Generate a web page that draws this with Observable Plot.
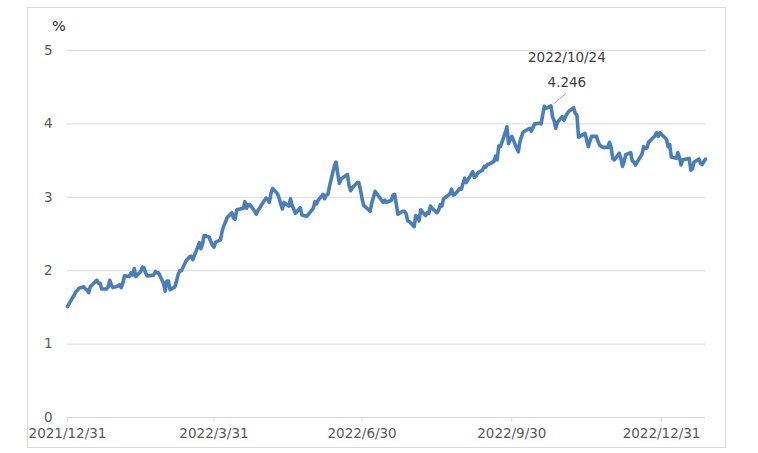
<!DOCTYPE html>
<html><head><meta charset="utf-8">
<script src="https://cdn.jsdelivr.net/npm/d3@7"></script>
<script src="https://cdn.jsdelivr.net/npm/@observablehq/plot@0.6"></script>
<style>
html,body{margin:0;padding:0;background:#fff;}
#wrap{position:relative;width:758px;height:453px;overflow:hidden;font-family:"DejaVu Sans",Verdana,sans-serif;}
#frame{position:absolute;left:27px;top:7px;width:699px;height:441px;border:1px solid #d9d9d9;box-sizing:border-box;}
#unit{position:absolute;left:52px;top:18px;font-size:14.5px;color:#262626;}
#chart{position:absolute;left:0;top:0;}
</style></head>
<body><div id="wrap"><div id="frame"></div><div id="unit">%</div><div id="chart"></div></div>
<script>
const dates = [
"2021-12-31",
"2022-01-03","2022-01-04","2022-01-05","2022-01-06","2022-01-07","2022-01-10","2022-01-11","2022-01-12","2022-01-13","2022-01-14",
"2022-01-18","2022-01-19","2022-01-20","2022-01-21","2022-01-24","2022-01-25","2022-01-26","2022-01-27","2022-01-28","2022-01-31",
"2022-02-01","2022-02-02","2022-02-03","2022-02-04","2022-02-07","2022-02-08","2022-02-09","2022-02-10","2022-02-11","2022-02-14",
"2022-02-15","2022-02-16","2022-02-17","2022-02-18","2022-02-22","2022-02-23","2022-02-24","2022-02-25","2022-02-28",
"2022-03-01","2022-03-02","2022-03-03","2022-03-04","2022-03-07","2022-03-08","2022-03-09","2022-03-10","2022-03-11","2022-03-14",
"2022-03-15","2022-03-16","2022-03-17","2022-03-18","2022-03-21","2022-03-22","2022-03-23","2022-03-24","2022-03-25","2022-03-28",
"2022-03-29","2022-03-30","2022-03-31",
"2022-04-01","2022-04-04","2022-04-05","2022-04-06","2022-04-07","2022-04-08","2022-04-11","2022-04-12","2022-04-13","2022-04-14",
"2022-04-18","2022-04-19","2022-04-20","2022-04-21","2022-04-22","2022-04-25","2022-04-26","2022-04-27","2022-04-28","2022-04-29",
"2022-05-02","2022-05-03","2022-05-04","2022-05-05","2022-05-06","2022-05-09","2022-05-10","2022-05-11","2022-05-12","2022-05-13",
"2022-05-16","2022-05-17","2022-05-18","2022-05-19","2022-05-20","2022-05-23","2022-05-24","2022-05-25","2022-05-26","2022-05-27","2022-05-31",
"2022-06-01","2022-06-02","2022-06-03","2022-06-06","2022-06-07","2022-06-08","2022-06-09","2022-06-10","2022-06-13","2022-06-14",
"2022-06-15","2022-06-16","2022-06-17","2022-06-21","2022-06-22","2022-06-23","2022-06-24","2022-06-27","2022-06-28","2022-06-29","2022-06-30",
"2022-07-01","2022-07-05","2022-07-06","2022-07-07","2022-07-08","2022-07-11","2022-07-12","2022-07-13","2022-07-14","2022-07-15",
"2022-07-18","2022-07-19","2022-07-20","2022-07-21","2022-07-22","2022-07-25","2022-07-26","2022-07-27","2022-07-28","2022-07-29",
"2022-08-01","2022-08-02","2022-08-03","2022-08-04","2022-08-05","2022-08-08","2022-08-09","2022-08-10","2022-08-11","2022-08-12",
"2022-08-15","2022-08-16","2022-08-17","2022-08-18","2022-08-19","2022-08-22","2022-08-23","2022-08-24","2022-08-25","2022-08-26",
"2022-08-29","2022-08-30","2022-08-31",
"2022-09-01","2022-09-02","2022-09-06","2022-09-07","2022-09-08","2022-09-09","2022-09-12","2022-09-13","2022-09-14","2022-09-15",
"2022-09-16","2022-09-19","2022-09-20","2022-09-21","2022-09-22","2022-09-23","2022-09-26","2022-09-27","2022-09-28","2022-09-29","2022-09-30",
"2022-10-03","2022-10-04","2022-10-05","2022-10-06","2022-10-07","2022-10-11","2022-10-12","2022-10-13","2022-10-14","2022-10-17",
"2022-10-18","2022-10-19","2022-10-20","2022-10-21","2022-10-24","2022-10-25","2022-10-26","2022-10-27","2022-10-28","2022-10-31",
"2022-11-01","2022-11-02","2022-11-03","2022-11-04","2022-11-07","2022-11-08","2022-11-09","2022-11-10","2022-11-14","2022-11-15",
"2022-11-16","2022-11-17","2022-11-18","2022-11-21","2022-11-22","2022-11-23","2022-11-25","2022-11-28","2022-11-29","2022-11-30",
"2022-12-01","2022-12-02","2022-12-05","2022-12-06","2022-12-07","2022-12-08","2022-12-09","2022-12-12","2022-12-13","2022-12-14",
"2022-12-15","2022-12-16","2022-12-19","2022-12-20","2022-12-21","2022-12-22","2022-12-23","2022-12-27","2022-12-28","2022-12-29","2022-12-30",
"2023-01-03","2023-01-04","2023-01-05","2023-01-06","2023-01-09","2023-01-10","2023-01-11","2023-01-12","2023-01-13",
"2023-01-17","2023-01-18","2023-01-19","2023-01-20","2023-01-23","2023-01-24","2023-01-25","2023-01-26","2023-01-27"
];
const yields = [
1.51,
1.63,1.66,1.71,1.73,1.76,1.78,1.75,1.74,1.70,1.78,
1.87,1.83,1.83,1.75,1.75,1.78,1.87,1.80,1.77,1.79,
1.81,1.77,1.83,1.93,1.92,1.97,1.94,2.03,1.92,1.99,
2.05,2.04,1.97,1.93,1.94,1.99,1.97,1.97,1.83,
1.72,1.86,1.86,1.74,1.78,1.86,1.95,2.00,2.00,2.14,
2.16,2.19,2.20,2.15,2.32,2.38,2.30,2.37,2.48,2.46,
2.40,2.35,2.32,
2.39,2.42,2.54,2.61,2.66,2.72,2.79,2.72,2.70,2.83,
2.85,2.94,2.85,2.90,2.90,2.81,2.77,2.82,2.85,2.89,
2.99,2.97,2.93,3.05,3.12,3.05,2.99,2.91,2.84,2.93,
2.88,2.98,2.89,2.84,2.78,2.86,2.76,2.75,2.75,2.74,2.85,
2.94,2.91,2.96,3.04,2.98,3.03,3.04,3.15,3.43,3.48,
3.33,3.19,3.25,3.31,3.16,3.09,3.13,3.20,3.20,3.10,2.98,
2.89,2.81,2.93,3.00,3.08,2.99,2.96,2.93,2.96,2.93,
2.96,3.03,3.04,2.91,2.77,2.81,2.81,2.78,2.68,2.67,
2.60,2.75,2.73,2.68,2.83,2.75,2.79,2.78,2.88,2.85,
2.79,2.82,2.90,2.88,2.98,3.03,3.05,3.11,3.03,3.04,
3.12,3.11,3.19,
3.26,3.20,3.35,3.27,3.29,3.33,3.37,3.42,3.41,3.45,
3.45,3.49,3.56,3.51,3.70,3.69,3.88,3.96,3.73,3.79,3.83,
3.67,3.62,3.76,3.83,3.89,3.94,3.90,3.95,4.00,4.01,
4.00,4.13,4.24,4.21,4.246,4.10,4.04,3.94,4.02,4.10,
4.05,4.10,4.14,4.17,4.22,4.14,4.12,3.82,3.87,3.78,
3.69,3.77,3.83,3.83,3.76,3.71,3.68,3.68,3.75,3.68,
3.53,3.51,3.60,3.53,3.42,3.49,3.58,3.61,3.50,3.48,
3.44,3.48,3.59,3.69,3.67,3.67,3.75,3.84,3.88,3.83,3.88,
3.79,3.69,3.72,3.55,3.53,3.61,3.54,3.44,3.51,
3.53,3.37,3.39,3.48,3.52,3.46,3.45,3.49,3.52
];
const xTickLabels = ["2021/12/31","2022/3/31","2022/6/30","2022/9/30","2022/12/31"];
const yTicks = [0,1,2,3,4,5];

const parse = d3.utcParse("%Y-%m-%d");
const parseTick = d3.utcParse("%Y/%m/%d");
const fmt = d3.utcFormat("%Y/%-m/%-d");
const data = dates.map((d,i) => ({date: parse(d), value: yields[i]}));
const xTicks = xTickLabels.map(s => parseTick(s));
const peak = data.reduce((a,b) => b.value > a.value ? b : a);
const lineColor = "#4a7ebb";
const grey = "#d9d9d9";
const textGrey = "#595959";

const chart = Plot.plot({
  width: 758, height: 453,
  marginLeft: 67, marginRight: 53, marginTop: 50, marginBottom: 36,
  style: {fontFamily: '"DejaVu Sans", Verdana, sans-serif', fontSize: "13.5px", background: "transparent", overflow: "visible"},
  x: {type: "utc", domain: [data[0].date, data[data.length-1].date]},
  y: {domain: [0, 5]},
  marks: [
    Plot.gridY(yTicks, {stroke: grey, strokeOpacity: 1, strokeWidth: 1}),
    Plot.axisY(yTicks, {tickSize: 0, tickPadding: 15, fill: textGrey, label: null, tickFormat: d => String(d)}),
    Plot.axisX(xTicks, {tickSize: 5, tickPadding: 6, stroke: grey, fill: textGrey, label: null, tickFormat: fmt}),
    Plot.line(data, {x: "date", y: "value", stroke: lineColor, strokeWidth: 3.6, strokeLinejoin: "round", strokeLinecap: "round"}),
    Plot.link([peak], {
      x1: d => d3.utcDay.offset(d.date, 2), y1: d => d.value + 0.03,
      x2: d => d3.utcDay.offset(d.date, 9), y2: d => d.value + 0.165,
      stroke: "#a6a6a6", strokeWidth: 1
    }),
    Plot.text([peak], {x: "date", y: "value", text: d => String(d.value), dx: 16, dy: -23, fill: "#404040", fontSize: 13.5}),
    Plot.text([peak], {x: "date", y: "value", text: d => fmt(d.date), dx: 16, dy: -48, fill: "#404040", fontSize: 13.5})
  ]
});
document.getElementById("chart").appendChild(chart);
</script>
</body></html>
